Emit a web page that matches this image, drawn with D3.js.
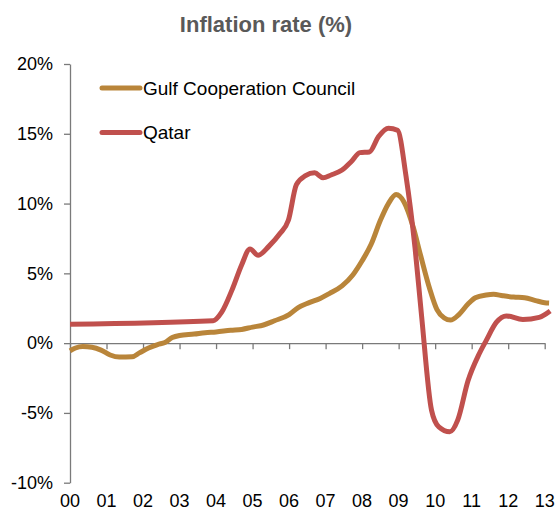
<!DOCTYPE html>
<html>
<head>
<meta charset="utf-8">
<script src="https://cdn.jsdelivr.net/npm/d3@7"></script>
<style>
  body { margin: 0; background: #fff; }
  svg { display: block; font-family: "Liberation Sans", Arial, sans-serif; }
</style>
</head>
<body>
<div id="chart"></div>
<script>
// tick labels
var yearTicks = [2000, 2001, 2002, 2003, 2004, 2005, 2006, 2007, 2008, 2009, 2010, 2011, 2012, 2013];
var yearLabels = ["00", "01", "02", "03", "04", "05", "06", "07", "08", "09", "10", "11", "12", "13"];
var pctTicks = [-10, -5, 0, 5, 10, 15, 20];

// Gulf Cooperation Council (decimal year, % y/y)
var gccTime = [2000.00, 2000.15, 2000.35, 2000.60, 2000.85, 2001.10, 2001.35, 2001.70, 2001.90, 2002.15,
               2002.40, 2002.60, 2002.80, 2003.00, 2003.40, 2003.70, 2004.00, 2004.40, 2004.70, 2005.00,
               2005.30, 2005.60, 2006.00, 2006.25, 2006.55, 2006.85, 2007.10, 2007.45, 2007.75, 2008.00,
               2008.25, 2008.50, 2008.72, 2008.93, 2009.15, 2009.40, 2009.60, 2009.85, 2010.05, 2010.25,
               2010.42, 2010.65, 2010.90, 2011.10, 2011.40, 2011.60, 2011.85, 2012.15, 2012.45, 2012.75,
               2013.00, 2013.12];
var gccValue = [-0.55, -0.35, -0.25, -0.30, -0.50, -0.85, -1.00, -0.98, -0.70, -0.35,
                -0.10, 0.05, 0.40, 0.55, 0.65, 0.75, 0.80, 0.92, 0.98, 1.15,
                1.30, 1.60, 2.05, 2.55, 2.90, 3.20, 3.55, 4.10, 4.90, 5.90,
                7.10, 8.80, 10.00, 10.65, 10.10, 8.30, 6.30, 3.90, 2.40, 1.80,
                1.65, 2.05, 2.80, 3.25, 3.45, 3.50, 3.40, 3.30, 3.25, 3.05,
                2.90, 2.88];

// Qatar
var qatarTime = [2000.00, 2003.92, 2004.15, 2004.45, 2004.70, 2004.93, 2005.15, 2005.45, 2005.75, 2005.98,
                 2006.20, 2006.45, 2006.70, 2006.93, 2007.15, 2007.45, 2007.70, 2007.94, 2008.20, 2008.45,
                 2008.72, 2008.97, 2009.20, 2009.45, 2009.63, 2009.90, 2010.10, 2010.40, 2010.62,
                 2010.90, 2011.20, 2011.40, 2011.68, 2011.95, 2012.40, 2012.85, 2013.15];
var qatarValue = [1.35, 1.60, 2.20, 3.90, 5.60, 6.75, 6.30, 6.95, 7.85, 8.80,
                  11.35, 12.00, 12.20, 11.85, 12.05, 12.40, 13.00, 13.65, 13.70, 14.80,
                  15.40, 15.25, 12.00, 6.80, 1.90, -4.80, -6.00, -6.35, -5.50,
                  -2.70, -0.80, 0.20, 1.50, 1.95, 1.70, 1.85, 2.30];

var seriesNames = ["Gulf Cooperation Council", "Qatar"];
var seriesColors = ["#B9853A", "#C0504D"];

var width = 558, height = 511;
var plotLeft = 70, plotRight = 544.7, plotTop = 64, plotBottom = 482.7;

var svg = d3.select("#chart").append("svg")
    .attr("width", width)
    .attr("height", height);

var x = d3.scaleLinear().domain([2000, 2013]).range([plotLeft, plotRight]);
var y = d3.scaleLinear().domain([-10, 20]).range([plotBottom, plotTop]);

// title
svg.append("text")
    .attr("x", 266)
    .attr("y", 32)
    .attr("text-anchor", "middle")
    .attr("font-size", 22)
    .attr("font-weight", "bold")
    .attr("fill", "#595959")
    .text("Inflation rate (%)");

// y axis
var yAxis = d3.axisLeft(y)
    .tickValues(pctTicks)
    .tickFormat(function(d) { return d + "%"; })
    .tickSize(6)
    .tickSizeOuter(0)
    .tickPadding(11);

var gy = svg.append("g")
    .attr("class", "y-axis")
    .attr("transform", "translate(" + plotLeft + ",0)")
    .call(yAxis);
gy.attr("font-size", 18).attr("font-family", null);
gy.selectAll("path, line").attr("stroke", "#7a7a7a").attr("stroke-width", 1.3);
gy.selectAll("text").attr("fill", "#000");

// x axis sits on the zero line, labels at the bottom
var xAxis = d3.axisBottom(x)
    .tickValues(yearTicks)
    .tickFormat("")
    .tickSize(6)
    .tickSizeOuter(0);

var gx = svg.append("g")
    .attr("class", "x-axis")
    .attr("transform", "translate(0," + y(0) + ")")
    .call(xAxis);
gx.selectAll("path, line").attr("stroke", "#7a7a7a").attr("stroke-width", 1.3);

svg.append("g")
    .attr("class", "x-labels")
    .selectAll("text")
    .data(yearTicks)
    .enter()
    .append("text")
    .attr("x", function(d) { return x(d); })
    .attr("y", 507)
    .attr("text-anchor", "middle")
    .attr("font-size", 18)
    .attr("fill", "#000")
    .text(function(d, i) { return yearLabels[i]; });

// lines
var line = d3.line()
    .x(function(d) { return x(d[0]); })
    .y(function(d) { return y(d[1]); })
    .curve(d3.curveMonotoneX);

var series = [
  d3.zip(gccTime, gccValue),
  d3.zip(qatarTime, qatarValue)
];

svg.append("g")
    .attr("class", "lines")
    .selectAll("path")
    .data(series)
    .enter()
    .append("path")
    .attr("d", line)
    .attr("fill", "none")
    .attr("stroke", function(d, i) { return seriesColors[i]; })
    .attr("stroke-width", 5)
    .attr("stroke-linejoin", "round");

// legend
var legend = svg.append("g")
    .attr("class", "legend")
    .selectAll("g")
    .data(seriesNames)
    .enter()
    .append("g")
    .attr("transform", function(d, i) { return "translate(0," + (88 + i * 44.5) + ")"; });

legend.append("line")
    .attr("x1", 102)
    .attr("x2", 140)
    .attr("stroke", function(d, i) { return seriesColors[i]; })
    .attr("stroke-width", 5)
    .attr("stroke-linecap", "round");

legend.append("text")
    .attr("x", 143)
    .attr("y", 6.5)
    .attr("font-size", 19)
    .attr("fill", "#000")
    .text(function(d) { return d; });
</script>
</body>
</html>
